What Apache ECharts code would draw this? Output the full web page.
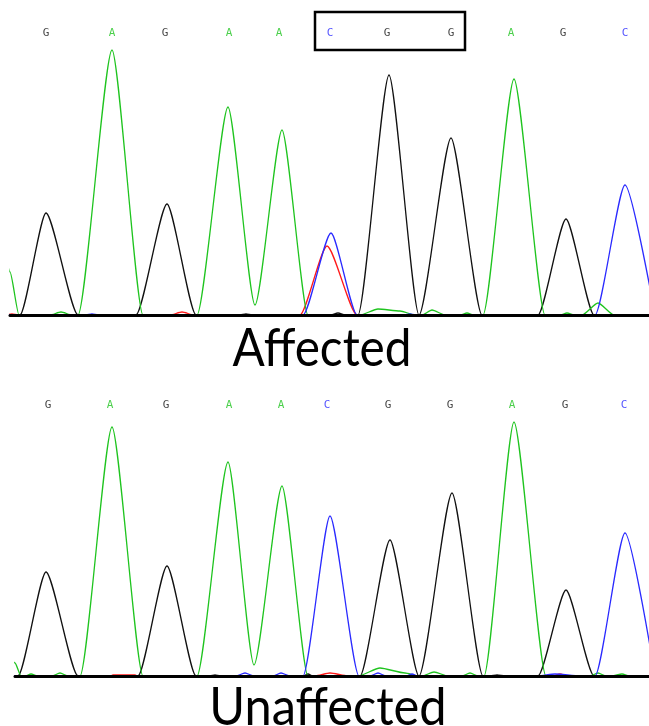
<!DOCTYPE html>
<html>
<head>
<meta charset="utf-8">
<script src="https://cdn.jsdelivr.net/npm/echarts@6/dist/echarts.min.js"></script>
<style>
  html, body { margin: 0; padding: 0; background: #fff; }
  #chart { width: 649px; height: 726px; }
</style>
</head>
<body>
<div id="chart"></div>
<script>
// base calls (same for both traces)
const calls = ['G', 'A', 'G', 'A', 'A', 'C', 'G', 'G', 'A', 'G', 'C']
const topCallPos = [46, 112, 165, 229, 279, 330, 387, 451, 511, 563, 625]
const botCallPos = [48, 110, 166, 229, 281, 327, 388, 450, 512, 565, 624]

// trace vertices [scan position, signal] - Affected
const topA = [[0, 120], [10, 43], [19, 0], [50, 0], [61, 3], [72, 0], [78, 0], [112, 265], [143, 0], [197, 0], [228, 208], [255, 10], [282, 185], [308, 0], [360, 0], [378, 6], [400, 4], [415, 0], [422, 0], [432, 5], [445, 0], [460, 0], [467, 2], [474, 0], [483, 0], [514, 236], [545, 0], [560, 0], [567, 2], [575, 0], [582, 0], [598, 12], [614, 0], [649, 0]]
const topG = [[0, 0], [20, 0], [46, 102], [78, 0], [136, 0], [167, 111], [196, 0], [240, 0], [246, 1], [252, 0], [330, 0], [338, 2], [346, 0], [358, 0], [389, 240], [419, 0], [451, 177], [482, 0], [538, 0], [566, 96], [594, 0], [649, 0]]
const topC = [[0, 0], [86, 0], [92, 1], [98, 0], [303, 0], [331, 82], [357, 0], [405, 0], [410, 1], [415, 0], [595, 0], [625, 130], [655, 0]]
const topT = [[0, 0], [5, 0], [12, 1], [18, 0], [170, 0], [182, 3], [194, 0], [300, 0], [327, 69], [357, 0], [649, 0]]

// Unaffected
const botA = [[5, 40], [15, 13], [21, 0], [25, 0], [31, 2], [38, 0], [52, 0], [60, 3], [68, 0], [80, 0], [112, 249], [143, 0], [197, 0], [228, 214], [254, 11], [282, 190], [308, 0], [358, 0], [380, 8], [405, 3], [418, 0], [422, 0], [434, 4], [448, 0], [462, 0], [470, 3], [478, 0], [484, 0], [514, 254], [546, 0], [590, 0], [598, 3], [606, 0], [612, 0], [622, 2], [630, 0], [649, 0]]
const botG = [[0, 0], [18, 0], [46, 104], [78, 0], [138, 0], [167, 110], [196, 0], [210, 0], [215, 1], [220, 0], [303, 0], [308, 2], [313, 0], [360, 0], [390, 136], [419, 0], [452, 183], [483, 0], [490, 0], [497, 1], [505, 0], [538, 0], [566, 86], [594, 0], [649, 0]]
const botC = [[0, 0], [236, 0], [245, 3], [254, 0], [273, 0], [281, 3], [290, 0], [303, 0], [330, 160], [359, 0], [370, 0], [378, 3], [386, 0], [406, 0], [412, 2], [418, 0], [538, 0], [555, 2], [580, 0], [595, 0], [625, 143], [655, 0]]
const botT = [[0, 0], [110, 0], [113, 1], [135, 1], [138, 0], [315, 0], [330, 3], [348, 0], [552, 0], [560, 2], [568, 0], [649, 0]]

const baseColor = { A: '#1fc41f', G: '#111111', C: '#2a2aff', T: '#ff1a1a' }

const chart = echarts.init(document.getElementById('chart'))

const traceSeries = (data, base, grid) => ({
  type: 'line',
  xAxisIndex: grid,
  yAxisIndex: grid,
  data: data,
  symbol: 'none',
  smooth: 0.22,
  smoothMonotone: 'x',
  lineStyle: { color: baseColor[base], width: 1.3 },
  clip: true,
  silent: true
})

const callSeries = (pos, grid, yVal) => ({
  type: 'scatter',
  xAxisIndex: grid,
  yAxisIndex: grid,
  symbolSize: 0,
  silent: true,
  data: calls.map((c, i) => ({
    value: [pos[i], yVal],
    name: c,
    label: { color: baseColor[c] }
  })),
  label: {
    show: true,
    position: 'inside',
    formatter: (p) => p.name,
    fontFamily: 'DejaVu Sans Mono',
    fontSize: 11
  }
})

const axisX = (grid, min) => ({
  type: 'value',
  gridIndex: grid,
  min: min,
  max: 649,
  z: 10,
  axisLine: { show: true, onZero: false, lineStyle: { color: '#000', width: 3 } },
  axisTick: { show: false },
  axisLabel: { show: false },
  splitLine: { show: false }
})

const axisY = (grid) => ({
  type: 'value',
  gridIndex: grid,
  min: 0,
  max: 300,
  show: false
})

const option = {
  animation: false,
  backgroundColor: '#fff',
  grid: [
    { left: 10, right: 0, top: 15, height: 300 },
    { left: 15, right: 0, top: 376, height: 300 }
  ],
  xAxis: [axisX(0, 10), axisX(1, 15)],
  yAxis: [axisY(0), axisY(1)],
  series: [
    traceSeries(topT, 'T', 0),
    traceSeries(topG, 'G', 0),
    traceSeries(topA, 'A', 0),
    traceSeries(topC, 'C', 0),
    traceSeries(botT, 'T', 1),
    traceSeries(botG, 'G', 1),
    traceSeries(botA, 'A', 1),
    traceSeries(botC, 'C', 1),
    callSeries(topCallPos, 0, 282),
    callSeries(botCallPos, 1, 271)
  ],
  graphic: [
    {
      type: 'rect',
      shape: { x: 315, y: 12, width: 150, height: 38 },
      style: { fill: 'none', stroke: '#000', lineWidth: 2.5 }
    },
    {
      type: 'text',
      x: 322,
      y: 349,
      scaleX: 0.9,
      style: {
        text: 'Affected',
        font: '53px Lato',
        fill: '#000',
        align: 'center',
        verticalAlign: 'middle'
      }
    },
    {
      type: 'text',
      x: 328,
      y: 708,
      scaleX: 0.92,
      style: {
        text: 'Unaffected',
        font: '53px Lato',
        fill: '#000',
        align: 'center',
        verticalAlign: 'middle'
      }
    }
  ]
}

chart.setOption(option)
</script>
</body>
</html>
